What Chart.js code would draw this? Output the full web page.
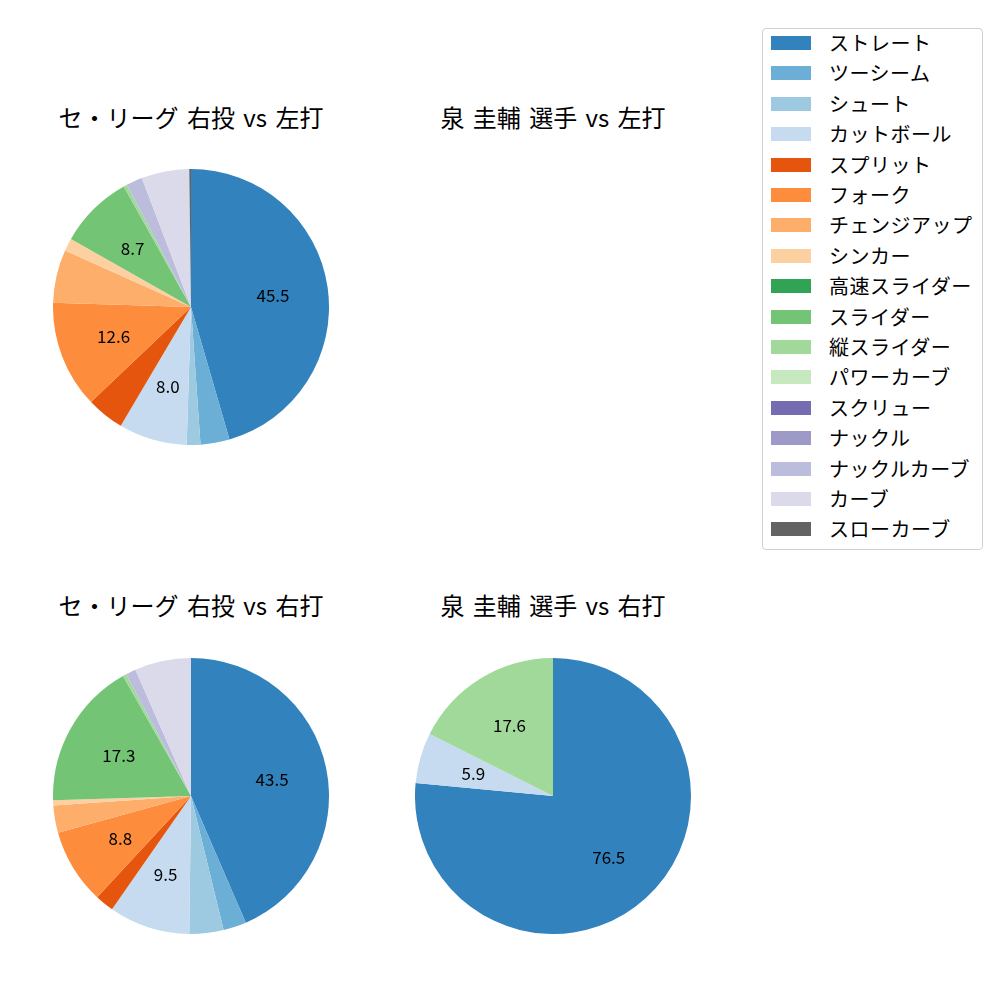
<!DOCTYPE html>
<html>
<head>
<meta charset="utf-8">
<script src="https://cdn.jsdelivr.net/npm/chart.js@4.4.0/dist/chart.umd.min.js"></script>
<style>
    body { margin: 0; background: #fff; font-family: "Noto Sans CJK JP", "Noto Sans", sans-serif; }
    #page { position: relative; width: 1000px; height: 1000px; }
    .title { position: absolute; width: 400px; text-align: center; font-size: 24px; color: #000; line-height: 1; white-space: pre; word-spacing: 3px; }
    .pie { position: absolute; }
    #legend { position: absolute; left: 762px; top: 28px; width: 219px; height: 520px;
              border: 1px solid #d0d0d0; border-radius: 4px; }
    .item { position: absolute; left: 8px; height: 20px; font-size: 20px; line-height: 20px; color: #000; }
    .swatch { position: absolute; left: 0; top: 3px; width: 40px; height: 14px; }
    .lbl { position: absolute; left: 58px; top: 0; white-space: nowrap; letter-spacing: 0.5px; }
</style>
</head>
<body>
<div id="page"></div>
<script>
const pitchTypes = ['ストレート', 'ツーシーム', 'シュート', 'カットボール', 'スプリット', 'フォーク',
    'チェンジアップ', 'シンカー', '高速スライダー', 'スライダー', '縦スライダー', 'パワーカーブ',
    'スクリュー', 'ナックル', 'ナックルカーブ', 'カーブ', 'スローカーブ'];
const pitchColors = ['#3182bd', '#6baed6', '#9ecae1', '#c6dbef', '#e6550d', '#fd8d3c',
    '#fdae6b', '#fdd0a2', '#31a354', '#74c476', '#a1d99b', '#c7e9c0',
    '#756bb1', '#9e9ac8', '#bcbddc', '#dadaeb', '#636363'];

// percentages per pitch type (order of pitchTypes)
const leagueVsLeft = [45.5, 3.4, 1.6, 8.0, 4.4, 12.6, 6.2, 1.5, 0, 8.7, 0.4, 0, 0, 0, 1.9, 5.6, 0.2];
const leagueVsRight = [43.5, 2.7, 4.0, 9.5, 2.2, 8.8, 3.2, 0.6, 0, 17.3, 0.4, 0, 0, 0, 1.2, 6.6, 0];
const pitcherVsRight = [76.5, 0, 0, 5.9, 0, 0, 0, 0, 0, 0, 17.6, 0, 0, 0, 0, 0, 0];

const panelTitles = ['セ・リーグ 右投 vs 左打', '泉 圭輔 選手 vs 左打', 'セ・リーグ 右投 vs 右打', '泉 圭輔 選手 vs 右打'];

const page = document.getElementById('page');

const pctLabels = {
    id: 'pctLabels',
    afterDatasetsDraw(chart, args, opts) {
        const ctx = chart.ctx;
        const values = chart.data.datasets[0].data;
        chart.getDatasetMeta(0).data.forEach((arc, i) => {
            if (values[i] < opts.minValue) return;
            const p = arc.getProps(['x', 'y', 'startAngle', 'endAngle', 'outerRadius'], true);
            const mid = (p.startAngle + p.endAngle) / 2;
            const r = p.outerRadius * 0.6;
            ctx.save();
            ctx.fillStyle = '#000';
            ctx.font = '17px "Noto Sans CJK JP", "DejaVu Sans", sans-serif';
            ctx.textAlign = 'center';
            ctx.textBaseline = 'middle';
            ctx.fillText(values[i].toFixed(1), p.x + r * Math.cos(mid), p.y + r * Math.sin(mid));
            ctx.restore();
        });
    }
};

function addTitle(text, cx, y) {
    const t = document.createElement('div');
    t.className = 'title';
    t.textContent = text;
    t.style.left = (cx - 200) + 'px';
    t.style.top = (y - 12) + 'px';
    page.appendChild(t);
}

function addPie(values, cx, cy, minValue) {
    const size = 276;
    const canvas = document.createElement('canvas');
    canvas.className = 'pie';
    canvas.width = size;
    canvas.height = size;
    canvas.style.left = (cx - size / 2) + 'px';
    canvas.style.top = (cy - size / 2) + 'px';
    page.appendChild(canvas);
    new Chart(canvas, {
        type: 'pie',
        data: {
            labels: pitchTypes,
            datasets: [{
                data: values,
                backgroundColor: pitchColors,
                borderWidth: 0
            }]
        },
        options: {
            responsive: false,
            animation: false,
            layout: { padding: 0 },
            plugins: {
                legend: { display: false },
                tooltip: { enabled: false },
                pctLabels: { minValue: minValue }
            }
        },
        plugins: [pctLabels]
    });
}

addTitle(panelTitles[0], 191, 117);
addTitle(panelTitles[1], 553, 117);
addTitle(panelTitles[2], 191, 605);
addTitle(panelTitles[3], 553, 605);

addPie(leagueVsLeft, 191, 307, 7);
addPie(leagueVsRight, 191, 796, 7);
addPie(pitcherVsRight, 553, 796, 5);

const legend = document.createElement('div');
legend.id = 'legend';
pitchTypes.forEach((name, i) => {
    const item = document.createElement('div');
    item.className = 'item';
    item.style.top = (4 + i * 30.4) + 'px';
    item.innerHTML = '<div class="swatch" style="background:' + pitchColors[i] + '"></div><div class="lbl">' + name + '</div>';
    legend.appendChild(item);
});
page.appendChild(legend);
</script>
</body>
</html>
